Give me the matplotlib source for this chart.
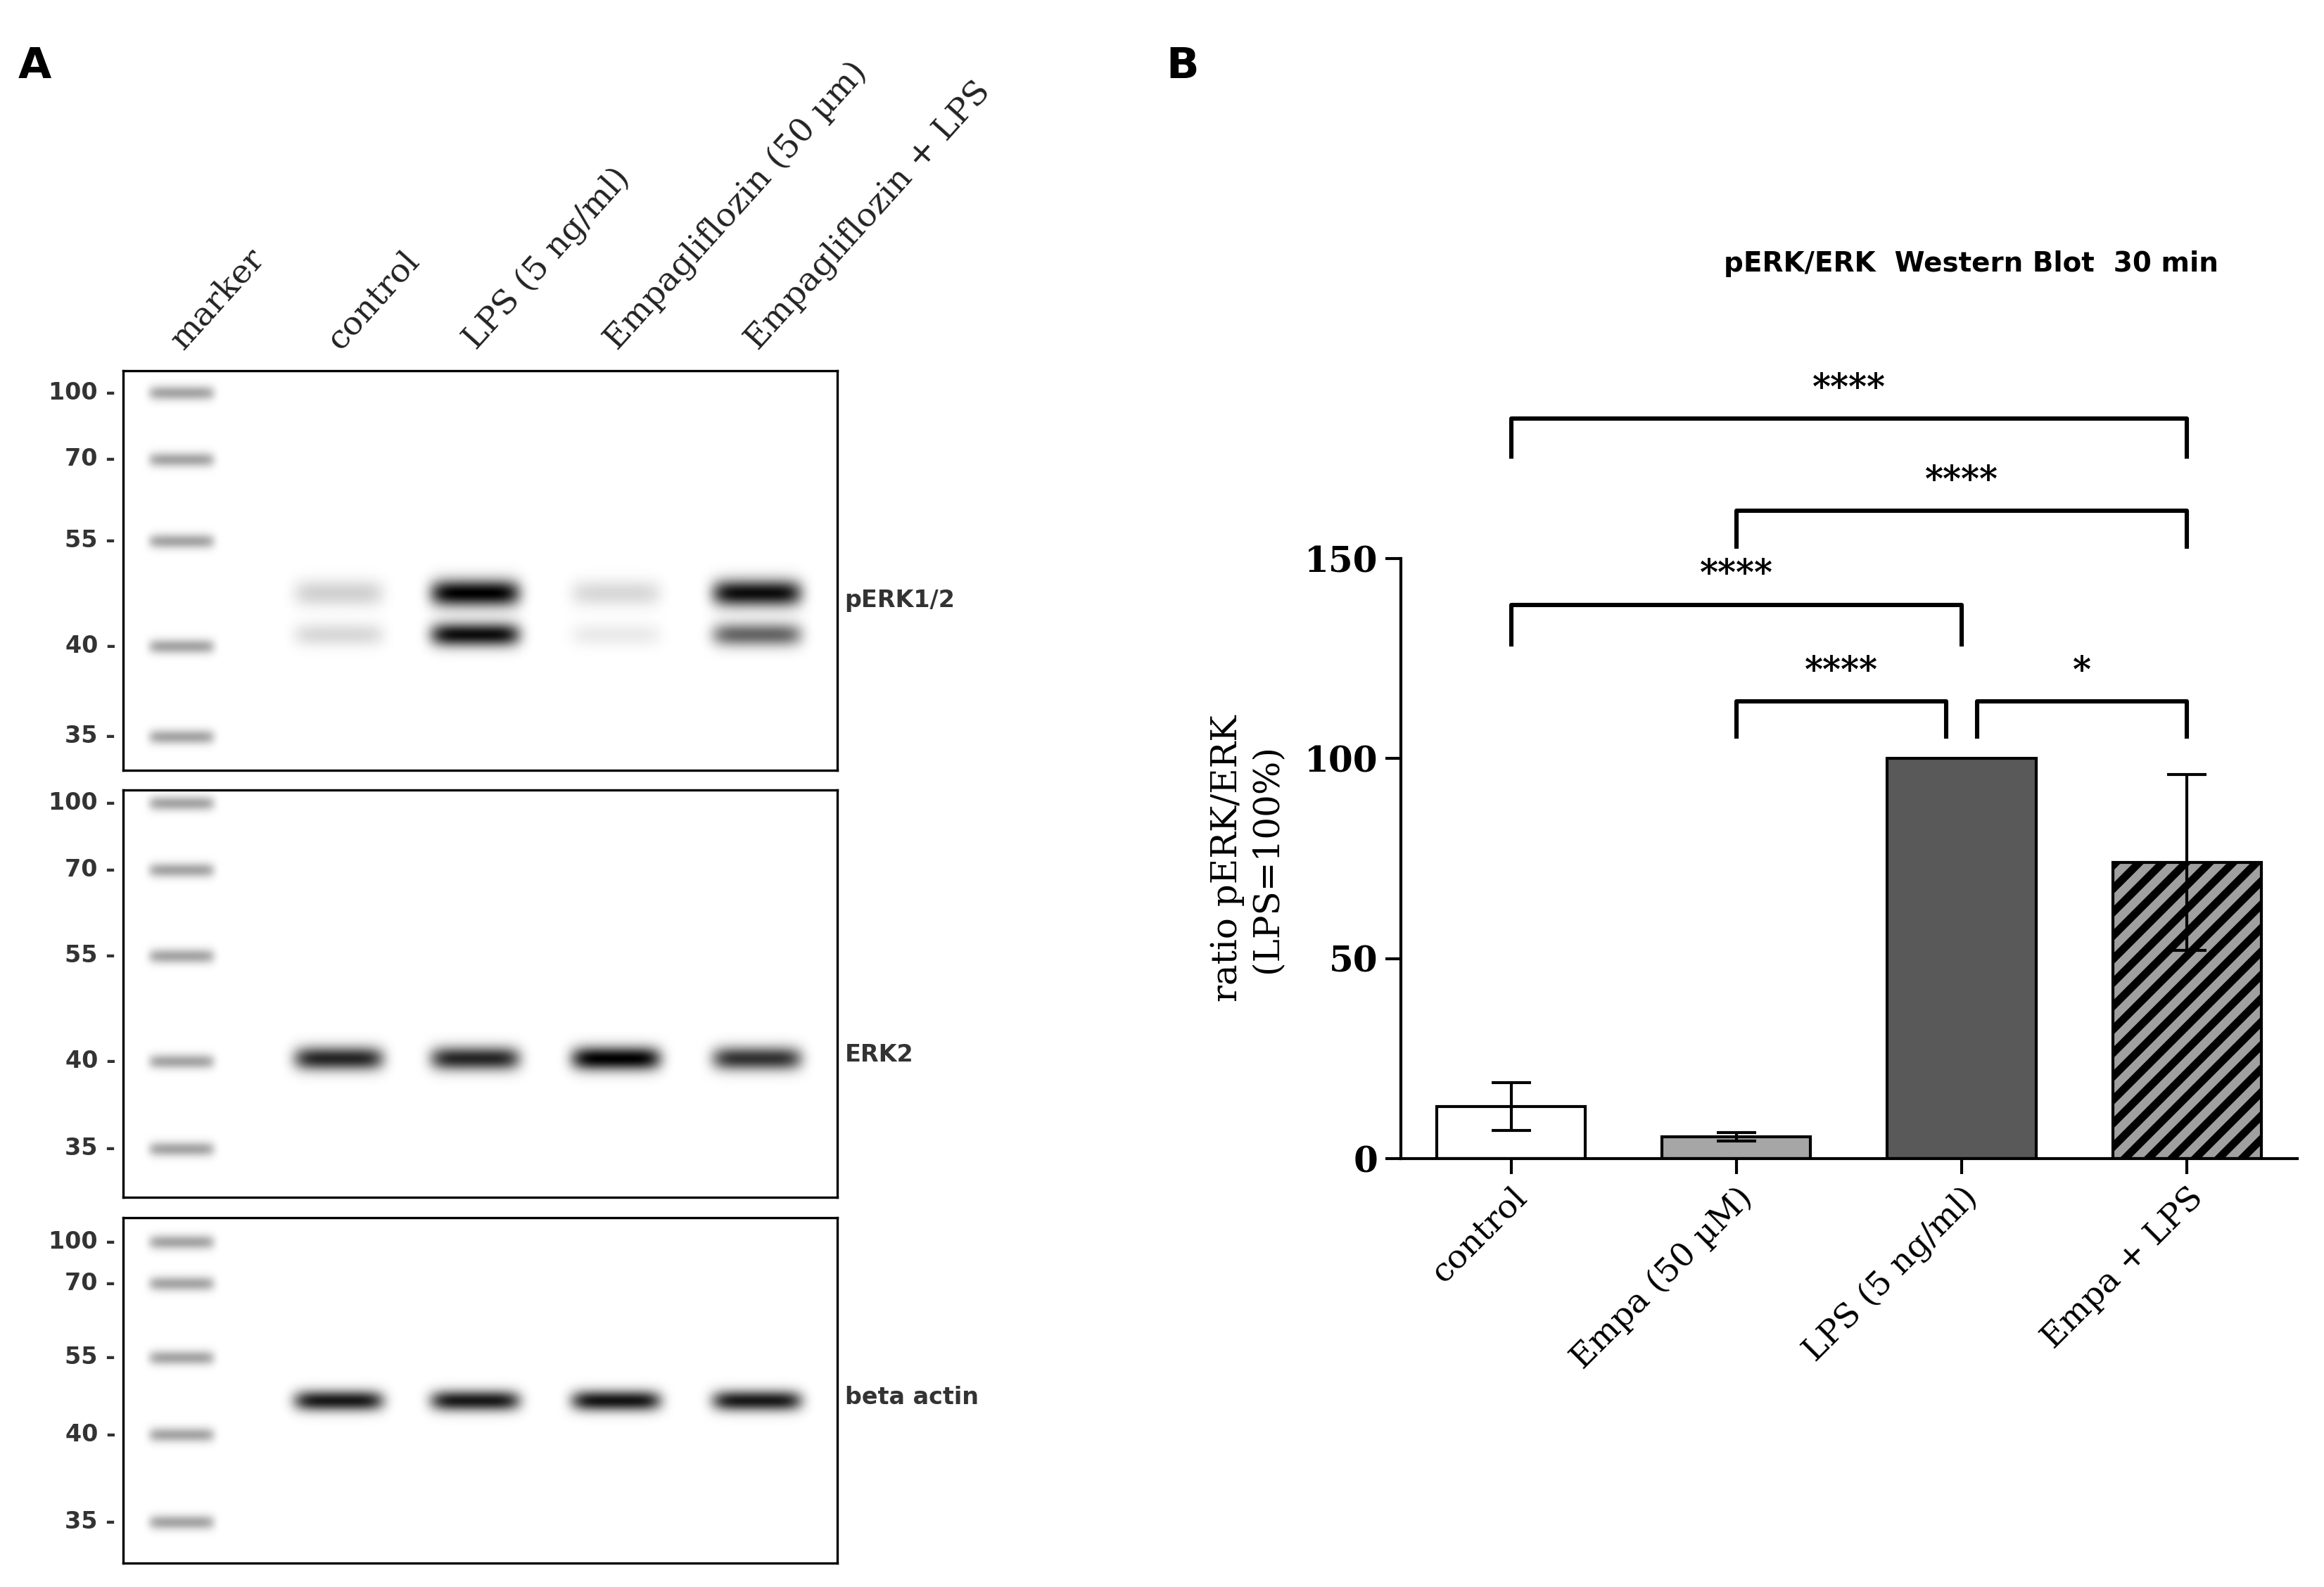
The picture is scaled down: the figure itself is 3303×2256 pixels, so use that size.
import numpy as np
import matplotlib.pyplot as plt
from matplotlib.colors import LinearSegmentedColormap

plt.rcParams["hatch.linewidth"] = 4

# ---------------- data ----------------
lanes = ["marker", "control", "LPS (5 ng/ml)", "Empagliflozin (50 µm)", "Empagliflozin + LPS"]
mw_labels = ["100", "70", "55", "40", "35"]
perk_upper = [0.18, 1.0, 0.15, 0.95]
perk_lower = [0.15, 0.95, 0.08, 0.6]
erk2 = [0.85, 0.85, 1.0, 0.8]
actin = [0.9, 0.9, 0.92, 0.9]

groups = ["control", "Empa (50 µM)", "LPS (5 ng/ml)", "Empa + LPS"]
means = [13, 5.5, 100, 74]
errs = [6, 1, 0, 22]
comparisons = [(0, 3, "****"), (1, 3, "****"), (0, 2, "****"), (1, 2, "****"), (2, 3, "*")]

fig = plt.figure(figsize=(16.515, 11.28), dpi=200)
W, H = 1568, 1071
def fx(x): return x / W
def fy(y): return 1 - y / H

lane_x = np.array([122, 228, 320, 415, 510])
cmap = LinearSegmentedColormap.from_list("blot", ["white", "black"])

def blot(top, bot, marker_ys, bands, name, name_y):
    ax = fig.add_axes([fx(83), fy(bot), fx(565 - 83), fy(top) - fy(bot)])
    nx, ny = 482, int(bot - top)
    X, Y = np.meshgrid(np.arange(nx) + 83, np.arange(ny) + top)
    img = np.zeros_like(X, dtype=float)
    for my in marker_ys:
        img += 0.35 * np.exp(-((X - lane_x[0]) / 22) ** 8 - ((Y - my) / 5) ** 2)
    for (yc, vals, h) in bands:
        for lx, v in zip(lane_x[1:], vals):
            img += v * np.exp(-((X - lx) / 30) ** 6 - ((Y - yc) / h) ** 2)
    ax.imshow(np.clip(img, 0, 1), cmap=cmap, vmin=0, vmax=1, aspect="auto",
              extent=[83, 565, bot, top])
    ax.set_xticks([]); ax.set_yticks([])
    for s in ax.spines.values():
        s.set_linewidth(1.2)
    for lab, yp in zip(mw_labels, marker_ys):
        fig.text(fx(78), fy(yp), lab + " -", ha="right", va="center", fontsize=12,
                 fontweight="bold", color="#333333")
    fig.text(fx(570), fy(name_y), name, ha="left", va="center", fontsize=12,
             fontweight="bold", color="#333333")

blot(250, 520, [265, 310, 365, 436, 497],
     [(400, perk_upper, 9), (428, perk_lower, 8)], "pERK1/2", 405)
blot(533, 808, [542, 587, 645, 716, 775],
     [(714, erk2, 8)], "ERK2", 712)
blot(822, 1055, [838, 866, 916, 968, 1027],
     [(945, actin, 7)], "beta actin", 943)

for lab, x in zip(lanes, lane_x):
    fig.text(fx(x + 5), fy(240), lab, rotation=48, ha="left", va="bottom",
             rotation_mode="anchor", fontsize=17, family="DejaVu Serif", color="#222222")
fig.text(fx(12), fy(45), "A", fontsize=22, fontweight="bold", va="center")
fig.text(fx(787), fy(45), "B", fontsize=22, fontweight="bold", va="center")

# ---------------- bar chart ----------------
ax = fig.add_axes([fx(945), fy(782), fx(1550 - 945), fy(377) - fy(782)])
x = np.arange(len(groups))
faces = ["white", "#a6a6a6", "#595959", "#a0a0a0"]
hatches = [None, None, None, "//"]
for xi, m, e, fc, h in zip(x, means, errs, faces, hatches):
    ax.bar(xi, m, 0.66, color=fc, edgecolor="black", linewidth=1.5, hatch=h, zorder=2)
    if e > 0:
        ax.errorbar(xi, m, yerr=e, color="black", capsize=10, capthick=1.5, lw=1.5, zorder=3)
ax.set_xlim(-0.49, 3.49)
ax.set_ylim(0, 150)
ax.set_yticks([0, 50, 100, 150])
ax.set_xticks(x)
ax.set_xticklabels(groups, rotation=45, ha="right", rotation_mode="anchor",
                   fontsize=17, family="DejaVu Serif")
for t in ax.get_yticklabels():
    t.set_fontsize(18); t.set_fontweight("bold"); t.set_family("DejaVu Serif")
ax.tick_params(width=1.5, length=8)
for s in ["top", "right"]:
    ax.spines[s].set_visible(False)
for s in ["left", "bottom"]:
    ax.spines[s].set_linewidth(1.5)
ax.set_ylabel("ratio pERK/ERK\n(LPS=100%)", fontsize=18, family="DejaVu Serif", labelpad=10)

levels = {(0, 3): (185, 175.5), (1, 3): (162, 153), (0, 2): (138.5, 128.5),
          (1, 2): (114.4, 105.5), (2, 3): (114.4, 105.5)}
for a, b, st in comparisons:
    top, low = levels[(a, b)]
    xa, xb = a, b
    if (a, b) == (1, 2): xb = b - 0.07
    if (a, b) == (2, 3): xa = a + 0.07
    ax.plot([xa, xa, xb, xb], [low, top, top, low], color="black", lw=2.2, clip_on=False)
    ax.text((xa + xb) / 2, top + 3, st, ha="center", va="bottom", fontsize=18,
            fontweight="bold", family="DejaVu Serif", clip_on=False)

fig.text(fx(1330), fy(178), "pERK/ERK  Western Blot  30 min", ha="center", va="center",
         fontsize=14, fontweight="bold")

fig.savefig("out.png", dpi=200)
